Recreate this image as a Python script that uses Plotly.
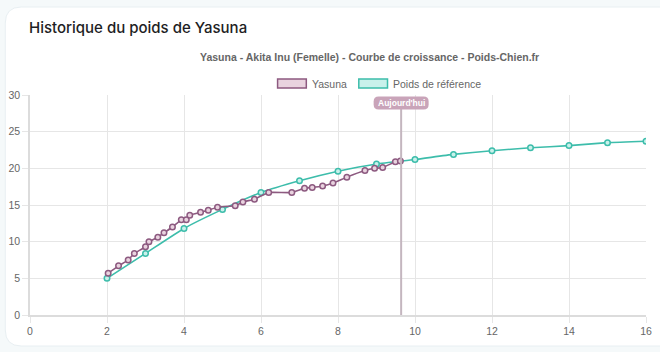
import plotly.graph_objects as go

# ---- data ----
ref_age = [2, 3, 4, 5, 6, 7, 8, 9, 10, 11, 12, 13, 14, 15, 16]
ref_weight = [5.0, 8.4, 11.8, 14.4, 16.7, 18.3, 19.6, 20.6, 21.2, 21.9, 22.4, 22.8, 23.1, 23.5, 23.7]

yasuna_age = [2.03, 2.30, 2.55, 2.71, 3.0, 3.09, 3.32, 3.48, 3.70, 3.93, 4.06, 4.15, 4.43, 4.63,
              4.87, 5.33, 5.53, 5.83, 6.2, 6.8, 7.13, 7.33, 7.6, 7.87, 8.23, 8.7, 8.95, 9.16,
              9.49, 9.62]
yasuna_weight = [5.7, 6.7, 7.5, 8.4, 9.3, 10.0, 10.6, 11.2, 12.0, 13.0, 13.0, 13.6, 14.0, 14.3,
                 14.7, 14.9, 15.4, 15.8, 16.7, 16.7, 17.3, 17.4, 17.6, 18.0, 18.8, 19.7, 20.0, 20.1,
                 20.9, 21.0]

today_age = 9.64
x_ticks = [0, 2, 4, 6, 8, 10, 12, 14, 16]
y_ticks = [0, 5, 10, 15, 20, 25, 30]

card_title = "Historique du poids de Yasuna"
chart_title = "Yasuna - Akita Inu (Femelle) - Courbe de croissance - Poids-Chien.fr"
series_names = ["Yasuna", "Poids de référence"]

PURPLE = "#8d5a80"
PURPLE_FILL = "#e9d3df"
TEAL = "#3dbdab"
TEAL_FILL = "#c9f1eb"
FONT = "Liberation Sans, Arial, sans-serif"

W, H = 660, 352
L, R, T, B = 30, 8, 95, 37
PW = W - L - R
PH = H - T - B


def px(x):
    return (x - L) / PW


def py(y):
    return (H - B - y) / PH


fig = go.Figure()

fig.add_trace(go.Scatter(
    x=ref_age, y=ref_weight, name=series_names[1], mode="lines+markers",
    line=dict(color=TEAL, width=1.6, shape="spline", smoothing=0.5),
    marker=dict(size=5.5, color=TEAL_FILL, line=dict(color=TEAL, width=1.5)),
))
fig.add_trace(go.Scatter(
    x=yasuna_age, y=yasuna_weight, name=series_names[0], mode="lines+markers",
    line=dict(color=PURPLE, width=1.6, shape="spline", smoothing=0.3),
    marker=dict(size=5.5, color=PURPLE_FILL, line=dict(color=PURPLE, width=1.5)),
))

shapes = []
# card (pixel coords relative to top-left of image, y up)
cx0, cy0, cx1, cy1, cr = 5, 7, 700, 346, 16
pts = lambda x, y: f"{x},{-y}"
card_path = (f"M{pts(cx0 + cr, cy0)} L{pts(cx1, cy0)} L{pts(cx1, cy1)} L{pts(cx0 + cr, cy1)} "
             f"Q{pts(cx0, cy1)} {pts(cx0, cy1 - cr)} L{pts(cx0, cy0 + cr)} "
             f"Q{pts(cx0, cy0)} {pts(cx0 + cr, cy0)} Z")
shapes.append(dict(type="path", xref="paper", yref="paper", xsizemode="pixel", ysizemode="pixel",
                   xanchor=px(0), yanchor=py(0), path=card_path,
                   fillcolor="#ffffff", line=dict(color="#e8eff2", width=1), layer="below"))

# today line
shapes.append(dict(type="line", xref="x", yref="paper", x0=today_age, x1=today_age,
                   y0=0, y1=py(103), line=dict(color="#c4b6bf", width=2), layer="above"))
# today label (rounded rect)
hw, hh, r = 27.5, 6.5, 5
path = (f"M{-hw + r},{-hh} L{hw - r},{-hh} Q{hw},{-hh} {hw},{-hh + r} L{hw},{hh - r} "
        f"Q{hw},{hh} {hw - r},{hh} L{-hw + r},{hh} Q{-hw},{hh} {-hw},{hh - r} "
        f"L{-hw},{-hh + r} Q{-hw},{-hh} {-hw + r},{-hh} Z")
shapes.append(dict(type="path", xref="x", yref="paper", xsizemode="pixel", ysizemode="pixel",
                   xanchor=today_age, yanchor=py(103), path=path,
                   fillcolor="#c9a4b9", line=dict(width=0), layer="above"))
# legend boxes
shapes.append(dict(type="rect", xref="paper", yref="paper", x0=px(280), x1=px(309),
                   y0=py(88), y1=py(79), fillcolor=PURPLE_FILL, line=dict(color=PURPLE, width=1.5)))
shapes.append(dict(type="rect", xref="paper", yref="paper", x0=px(362), x1=px(391),
                   y0=py(88), y1=py(79), fillcolor=TEAL_FILL, line=dict(color=TEAL, width=1.5)))

annotations = [
    dict(text=card_title, xref="paper", yref="paper", x=px(27), y=py(27), xanchor="left",
         yanchor="middle", showarrow=False,
         font=dict(family="Inter, Roboto, sans-serif", size=15, color="#1e1e24", weight=500)),
    dict(text=f"<b>{chart_title}</b>", xref="paper", yref="paper", x=px(373), y=py(57),
         xanchor="center", yanchor="middle", showarrow=False,
         font=dict(family=FONT, size=10.5, color="#666666")),
    dict(text=series_names[0], xref="paper", yref="paper", x=px(313), y=py(84), xanchor="left",
         yanchor="middle", showarrow=False, font=dict(family=FONT, size=10.5, color="#666666")),
    dict(text=series_names[1], xref="paper", yref="paper", x=px(395), y=py(84), xanchor="left",
         yanchor="middle", showarrow=False, font=dict(family=FONT, size=10.5, color="#666666")),
    dict(text="<b>Aujourd'hui</b>", xref="x", yref="paper", x=today_age, y=py(103),
         xanchor="center", yanchor="middle", showarrow=False,
         font=dict(family=FONT, size=8.5, color="#ffffff")),
]

fig.update_layout(
    width=W, height=H,
    margin=dict(l=L, r=R, t=T, b=B, pad=0),
    paper_bgcolor="#f5f9fa", plot_bgcolor="#ffffff",
    showlegend=False,
    shapes=shapes, annotations=annotations,
    font=dict(family=FONT, size=10.5, color="#666666"),
    hovermode="closest",
)
fig.update_xaxes(range=[0, 16], tickvals=x_ticks, ticktext=[str(v) for v in x_ticks],
                 showgrid=True, gridcolor="#e6e6e6", gridwidth=1, zeroline=False,
                 showline=True, linecolor="#dcdcdc", linewidth=1.5,
                 ticks="outside", ticklen=6, tickcolor="#e6e6e6", fixedrange=True)
fig.update_yaxes(range=[0, 30], tickvals=y_ticks, ticktext=[str(v) for v in y_ticks],
                 showgrid=True, gridcolor="#e6e6e6", gridwidth=1, zeroline=False,
                 showline=True, linecolor="#dcdcdc", linewidth=1.5,
                 ticks="outside", ticklen=6, tickcolor="#e6e6e6", fixedrange=True)

fig.write_html("out.html", config={"displayModeBar": False})
